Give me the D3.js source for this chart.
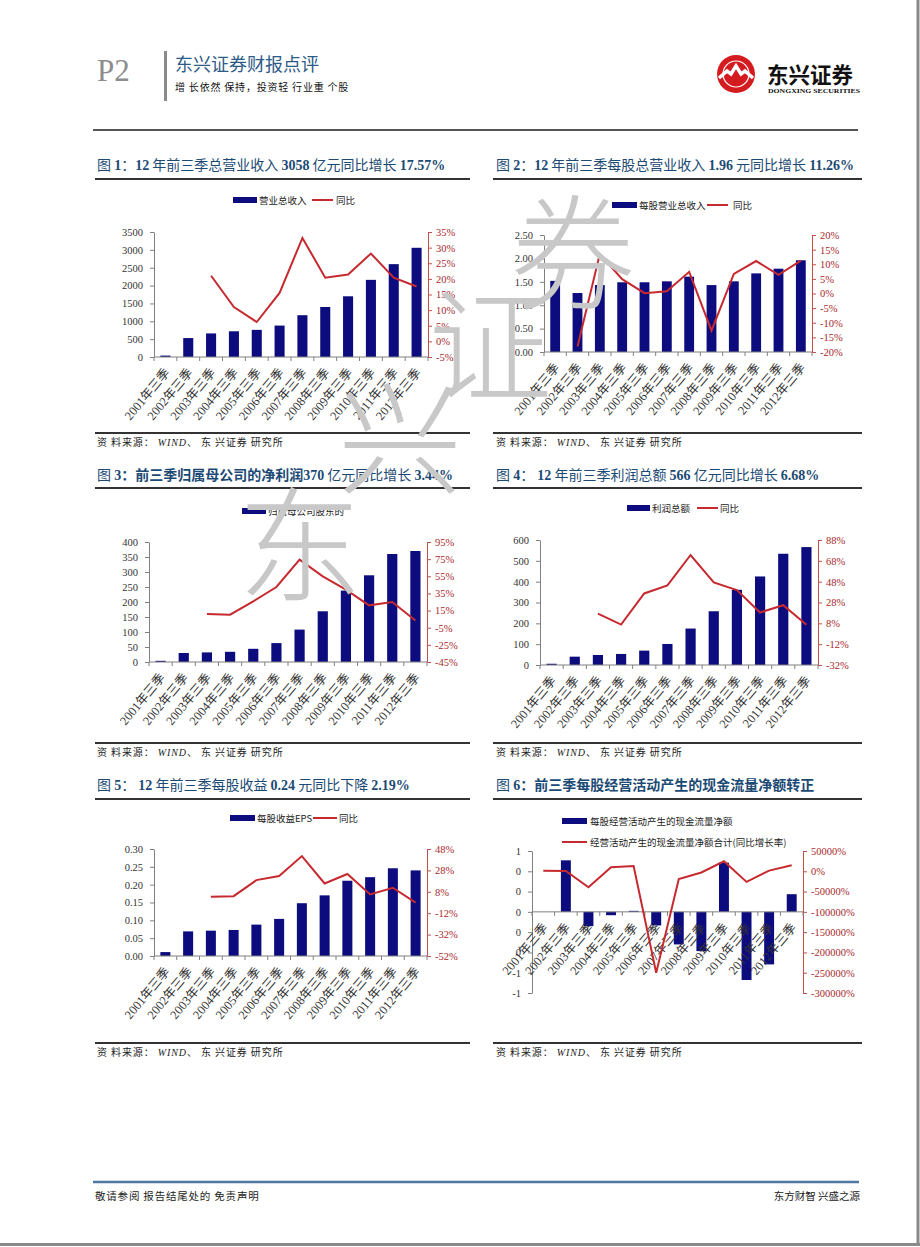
<!DOCTYPE html>
<html><head><meta charset="utf-8">
<script src="https://cdn.jsdelivr.net/npm/d3@7"></script>
<style>body{margin:0;background:#fff}svg{display:block}</style>
</head><body><div id="page"></div>
<script>
// ---------------- data ----------------
const years = ["2001年三季","2002年三季","2003年三季","2004年三季","2005年三季","2006年三季",
               "2007年三季","2008年三季","2009年三季","2010年三季","2011年三季","2012年三季"];
const revenue      = [40, 530, 660, 720, 760, 880, 1170, 1400, 1700, 2160, 2600, 3058];
const revenueYoY   = [null, null, 21.0, 11.0, 6.2, 15.5, 33.1, 20.4, 21.4, 28.1, 20.4, 17.57];
const revPerShare  = [1.52, 1.26, 1.43, 1.49, 1.49, 1.51, 1.61, 1.43, 1.51, 1.68, 1.78, 1.96];
const revPerShareYoY = [null, -18.1, 13.5, 4.9, 0.1, 0.8, 7.4, -12.7, 6.7, 11.1, 6.4, 11.26];
const netProfit    = [4, 30, 32, 34, 44, 63, 108, 169, 238, 289, 360, 370];
const netProfitYoY = [null, null, 11.0, 10.2, 25.8, 42.5, 74.4, 55.0, 39.4, 21.1, 25.0, 3.44];
const totalProfit  = [6, 40, 48, 53, 69, 101, 175, 258, 361, 425, 534, 566];
const totalProfitYoY = [null, null, 17.4, 6.8, 36.7, 44.4, 73.6, 47.3, 39.9, 18.4, 25.4, 6.68];
const eps          = [0.011, 0.069, 0.071, 0.073, 0.088, 0.104, 0.148, 0.170, 0.211, 0.221, 0.246, 0.240];
const epsYoY       = [null, null, 3.3, 3.9, 18.9, 22.7, 41.4, 15.8, 24.6, 5.5, 11.75, -2.19];
const cfps         = [0, 0.508, -0.141, -0.033, 0.01, -0.134, -0.321, -0.387, 0.485, -0.672, -0.518, 0.174];
const cfpsYoY      = [1500, 1000, -39300, 9800, 13100, -250000, -18900, -3000, 24600, -26200, 1600, 14800];

const ticks1L = [0,500,1000,1500,2000,2500,3000,3500];
const ticks1R = [-5,0,5,10,15,20,25,30,35];
const ticks2L = [0,0.5,1.0,1.5,2.0,2.5];
const ticks2R = [-20,-15,-10,-5,0,5,10,15,20];
const ticks3L = [0,50,100,150,200,250,300,350,400];
const ticks3R = [-45,-25,-5,15,35,55,75,95];
const ticks4L = [0,100,200,300,400,500,600];
const ticks4R = [-32,-12,8,28,48,68,88];
const ticks5L = [0,0.05,0.10,0.15,0.20,0.25,0.30];
const ticks5R = [-52,-32,-12,8,28,48];
const ticks6L = [-0.8,-0.6,-0.4,-0.2,0,0.2,0.4,0.6];
const ticks6R = [-300000,-250000,-200000,-150000,-100000,-50000,0,50000];

// ---------------- styles ----------------
const W = 920, H = 1247;
const CJK = "'Noto Sans CJK SC','Noto Sans',sans-serif";
const SERIF = "'Liberation Serif','Noto Sans CJK SC',serif";
const TITLE_C = "#1c4a74";
const BAR_C = "#0c0c7e";
const LINE_C = "#c62a2f";
const RAX_C = "#c0504d";
const RTXT_C = "#a8282c";
const AX_C = "#808080";

const svg = d3.select("#page").append("svg").attr("width", W).attr("height", H);
svg.append("rect").attr("width", W).attr("height", H).attr("fill", "#fff");

// ---------------- header ----------------
svg.append("text").attr("x", 97).attr("y", 81).text("P2")
  .attr("font-family", "'Liberation Serif',serif").attr("font-size", 31).attr("fill", "#8c8c8c");
svg.append("rect").attr("x", 164).attr("y", 51).attr("width", 3).attr("height", 50).attr("fill", "#8a8a8a");
svg.append("text").attr("x", 175).attr("y", 71).text("东兴证券财报点评")
  .attr("font-family", CJK).attr("font-size", 18).attr("fill", "#2d5b87");
svg.append("text").attr("x", 175).attr("y", 91).text("增 长依然 保持，投资轻 行业重 个股")
  .attr("font-family", CJK).attr("font-size", 10).attr("letter-spacing", 0.8).attr("fill", "#111");
// logo
const logo = svg.append("g").attr("transform", "translate(736,74)");
logo.append("circle").attr("r", 19).attr("fill", "#d41c20");
logo.append("circle").attr("r", 13).attr("fill", "none").attr("stroke", "#fff").attr("stroke-width", 1.2);
logo.append("path").attr("d", "M-17,4 L-9,-3 L-5,0 L0,-8 L5,0 L9,-3 L17,4")
  .attr("fill", "none").attr("stroke", "#fff").attr("stroke-width", 3.5).attr("stroke-linejoin", "miter");
svg.append("text").attr("x", 767).attr("y", 83).text("东兴证券")
  .attr("font-family", CJK).attr("font-weight", "bold").attr("font-size", 21.5).attr("fill", "#111");
svg.append("text").attr("x", 768).attr("y", 93).text("DONGXING SECURITIES")
  .attr("font-family", "'Liberation Serif',serif").attr("font-weight", "bold").attr("font-size", 7).attr("fill", "#111")
  .attr("textLength", 92).attr("lengthAdjust", "spacingAndGlyphs");
svg.append("line").attr("x1", 93).attr("x2", 858).attr("y1", 130).attr("y2", 130).attr("stroke", "#555").attr("stroke-width", 2);

// ---------------- panel drawer ----------------
function drawPanel(c) {
  const g = svg.append("g");
  // title
  const t = g.append("text").attr("x", c.tx).attr("y", c.ty).attr("fill", TITLE_C).attr("font-size", 14);
  c.title.forEach(s => t.append("tspan").text(s.t)
    .attr("font-family", s.n ? "'Liberation Serif',serif" : CJK)
    .attr("font-weight", s.b ? "bold" : "normal"));
  g.append("line").attr("x1", c.lx0).attr("x2", c.lx1).attr("y1", c.tly).attr("y2", c.tly).attr("stroke", "#333").attr("stroke-width", 2);
  g.append("line").attr("x1", c.lx0).attr("x2", c.lx1).attr("y1", c.sly).attr("y2", c.sly).attr("stroke", "#333").attr("stroke-width", 2);
  const src = g.append("text").attr("x", c.tx).attr("y", c.sly + 13).attr("font-size", 10).attr("letter-spacing", 0.9).attr("fill", "#222");
  src.append("tspan").attr("font-family", CJK).text("资 料来源：  ");
  src.append("tspan").attr("font-family", "'Liberation Serif',serif").attr("font-style", "italic").text("WIND");
  src.append("tspan").attr("font-family", CJK).text("、  东 兴证券 研究所");

  const p = c.plot;
  const x = d3.scaleBand().domain(years).range([p.l, p.r]).paddingInner(0.56).paddingOuter(0.28);
  const y = d3.scaleLinear().domain(c.yDom).range([p.b, p.t]);
  const yr = d3.scaleLinear().domain(c.rDom).range([p.b, p.t]);
  const cx = (d, i) => x(years[i]) + x.bandwidth() / 2;

  // bars
  g.append("g").selectAll("rect").data(c.bars).join("rect")
    .attr("x", (d, i) => x(years[i])).attr("width", x.bandwidth())
    .attr("y", d => y(Math.max(0, d))).attr("height", d => Math.abs(y(d) - y(0)))
    .attr("fill", BAR_C);

  // left axis
  const la = g.append("g").attr("transform", `translate(${p.l},0)`)
    .call(d3.axisLeft(y).tickValues(c.lTicks).tickFormat(c.lFmt).tickSize(4).tickSizeOuter(0).tickPadding(7));
  la.select(".domain").attr("stroke", AX_C);
  la.selectAll(".tick line").attr("stroke", AX_C);
  la.selectAll("text").attr("font-family", SERIF).attr("font-size", 10.5).attr("fill", "#333");

  // right axis
  const ra = g.append("g").attr("transform", `translate(${p.r},0)`)
    .call(d3.axisRight(yr).tickValues(c.rTicks).tickFormat(d => d + "%").tickSize(4).tickSizeOuter(0).tickPadding(4));
  ra.select(".domain").attr("stroke", RAX_C);
  ra.selectAll(".tick line").attr("stroke", RAX_C);
  ra.selectAll("text").attr("font-family", SERIF).attr("font-size", 10.5).attr("fill", RTXT_C);

  // x axis at zero
  const y0 = y(0);
  g.append("line").attr("x1", p.l).attr("x2", p.r).attr("y1", y0).attr("y2", y0).attr("stroke", AX_C);
  const bounds = years.map(yv => x(yv) + x.bandwidth() / 2 - x.step() / 2).concat([p.r]);
  g.append("g").selectAll("line").data(bounds).join("line")
    .attr("x1", d => d).attr("x2", d => d).attr("y1", y0).attr("y2", y0 + 4).attr("stroke", AX_C);
  g.append("g").selectAll("text").data(years).join("text")
    .attr("transform", (d, i) => `translate(${cx(d, i) + 5},${y0 + 16}) rotate(-50)`)
    .attr("text-anchor", "end").attr("font-family", SERIF).attr("font-size", 12.5).attr("fill", "#333")
    .text(d => d);

  // line
  const ln = d3.line().defined(d => d != null).x((d, i) => cx(d, i)).y(d => yr(d));
  g.append("path").datum(c.line).attr("d", ln).attr("fill", "none").attr("stroke", LINE_C).attr("stroke-width", 2);

  // legend
  c.legend.forEach(L => {
    if (L.type === "rect") g.append("rect").attr("x", L.x).attr("y", L.y - 3).attr("width", L.w).attr("height", 6).attr("fill", BAR_C);
    else g.append("line").attr("x1", L.x).attr("x2", L.x + L.w).attr("y1", L.y).attr("y2", L.y).attr("stroke", LINE_C).attr("stroke-width", 2);
    g.append("text").attr("x", L.tx).attr("y", L.y + 3.5).attr("font-family", CJK).attr("font-size", 9.5).attr("fill", "#222").text(L.text);
  });
}

const f0 = d3.format("d"), f2 = d3.format(".2f");
const fRound = v => { const r = Math.round(v); return r === 0 ? "0" : String(r); };

drawPanel({
  tx: 97, ty: 170, lx0: 95, lx1: 470, tly: 179, sly: 433,
  title: [{t:"图 "},{t:"1",n:1,b:1},{t:"："},{t:"12",n:1,b:1},{t:" 年前三季总营业收入 "},{t:"3058",n:1,b:1},{t:" 亿元同比增长 "},{t:"17.57%",n:1,b:1}],
  plot: {l:154, r:428, t:232, b:357},
  bars: revenue, yDom: [0, 3500], lTicks: ticks1L, lFmt: f0,
  line: revenueYoY, rDom: [-5, 35], rTicks: ticks1R,
  legend: [{type:"rect", x:233, w:24, y:200, tx:259, text:"营业总收入"},
           {type:"line", x:312, w:21, y:200, tx:336, text:"同比"}]
});
drawPanel({
  tx: 496, ty: 170, lx0: 493, lx1: 862, tly: 179, sly: 433,
  title: [{t:"图 "},{t:"2",n:1,b:1},{t:"："},{t:"12",n:1,b:1},{t:" 年前三季每股总营业收入 "},{t:"1.96",n:1,b:1},{t:" 元同比增长 "},{t:"11.26%",n:1,b:1}],
  plot: {l:544, r:812, t:235, b:352},
  bars: revPerShare, yDom: [0, 2.5], lTicks: ticks2L, lFmt: f2,
  line: revPerShareYoY, rDom: [-20, 20], rTicks: ticks2R,
  legend: [{type:"rect", x:612, w:25, y:205, tx:639, text:"每股营业总收入"},
           {type:"line", x:707, w:21, y:205, tx:733, text:"同比"}]
});
drawPanel({
  tx: 97, ty: 480, lx0: 95, lx1: 470, tly: 488, sly: 743,
  title: [{t:"图 "},{t:"3",n:1,b:1},{t:"：",b:1},{t:"前三季归属母公司的净利润",b:1},{t:"370",n:1,b:1},{t:" 亿元同比增长 "},{t:"3.44%",n:1,b:1}],
  plot: {l:149, r:427, t:542, b:662},
  bars: netProfit, yDom: [0, 400], lTicks: ticks3L, lFmt: f0,
  line: netProfitYoY, rDom: [-45, 95], rTicks: ticks3R,
  legend: [{type:"rect", x:242, w:24, y:511, tx:268, text:"归属母公司股东的"}]
});
drawPanel({
  tx: 496, ty: 480, lx0: 493, lx1: 862, tly: 488, sly: 743,
  title: [{t:"图 "},{t:"4",n:1,b:1},{t:"： "},{t:"12",n:1,b:1},{t:" 年前三季利润总额 "},{t:"566",n:1,b:1},{t:" 亿元同比增长 "},{t:"6.68%",n:1,b:1}],
  plot: {l:540, r:818, t:540, b:665},
  bars: totalProfit, yDom: [0, 600], lTicks: ticks4L, lFmt: f0,
  line: totalProfitYoY, rDom: [-32, 88], rTicks: ticks4R,
  legend: [{type:"rect", x:627, w:23, y:508, tx:652, text:"利润总额"},
           {type:"line", x:697, w:21, y:508, tx:720, text:"同比"}]
});
drawPanel({
  tx: 97, ty: 790, lx0: 95, lx1: 470, tly: 799, sly: 1043,
  title: [{t:"图 "},{t:"5",n:1,b:1},{t:"： "},{t:"12",n:1,b:1},{t:" 年前三季每股收益 "},{t:"0.24",n:1,b:1},{t:" 元同比下降 "},{t:"2.19%",n:1,b:1}],
  plot: {l:154, r:427, t:849, b:956},
  bars: eps, yDom: [0, 0.3], lTicks: ticks5L, lFmt: f2,
  line: epsYoY, rDom: [-52, 48], rTicks: ticks5R,
  legend: [{type:"rect", x:230, w:25, y:818, tx:257, text:"每股收益EPS"},
           {type:"line", x:313, w:24, y:818, tx:339, text:"同比"}]
});
drawPanel({
  tx: 496, ty: 790, lx0: 493, lx1: 862, tly: 799, sly: 1043,
  title: [{t:"图 "},{t:"6",n:1,b:1},{t:"：",b:1},{t:"前三季每股经营活动产生的现金流量净额转正",b:1}],
  plot: {l:532, r:803, t:851, b:993},
  bars: cfps, yDom: [-0.8, 0.6], lTicks: ticks6L, lFmt: fRound,
  line: cfpsYoY, rDom: [-300000, 50000], rTicks: ticks6R,
  legend: [{type:"rect", x:562, w:25, y:821, tx:590, text:"每股经营活动产生的现金流量净额"},
           {type:"line", x:562, w:25, y:842, tx:590, text:"经营活动产生的现金流量净额合计(同比增长率)"}]
});

// ---------------- footer ----------------
svg.append("line").attr("x1", 93).attr("x2", 859).attr("y1", 1182).attr("y2", 1182).attr("stroke", "#4f76a0").attr("stroke-width", 2.5);
svg.append("text").attr("x", 95).attr("y", 1200).text("敬请参阅 报告结尾处的 免责声明")
  .attr("font-family", CJK).attr("font-size", 10.5).attr("letter-spacing", 0.8).attr("fill", "#222");
svg.append("text").attr("x", 860).attr("y", 1200).attr("text-anchor", "end").text("东方财智 兴盛之源")
  .attr("font-family", CJK).attr("font-size", 10.5).attr("fill", "#222");
// page border
svg.append("line").attr("x1", 918).attr("x2", 918).attr("y1", 0).attr("y2", 1245).attr("stroke", "#8a8a8a").attr("stroke-width", 3);
svg.append("line").attr("x1", 0).attr("x2", 920).attr("y1", 1244.5).attr("y2", 1244.5).attr("stroke", "#8a8a8a").attr("stroke-width", 3);

// ---------------- watermark ----------------
const wm = [{c:"券", x:573, y:245}, {c:"证", x:490, y:337}, {c:"兴", x:400, y:430}, {c:"东", x:300, y:537}];
svg.append("g").selectAll("text").data(wm).join("text")
  .attr("x", d => d.x).attr("y", d => d.y).attr("text-anchor", "middle").attr("dominant-baseline", "central")
  .attr("font-family", CJK).attr("font-weight", 300).attr("font-size", 125).attr("fill", "#c8c8c8")
  .text(d => d.c);
</script>
</body></html>
